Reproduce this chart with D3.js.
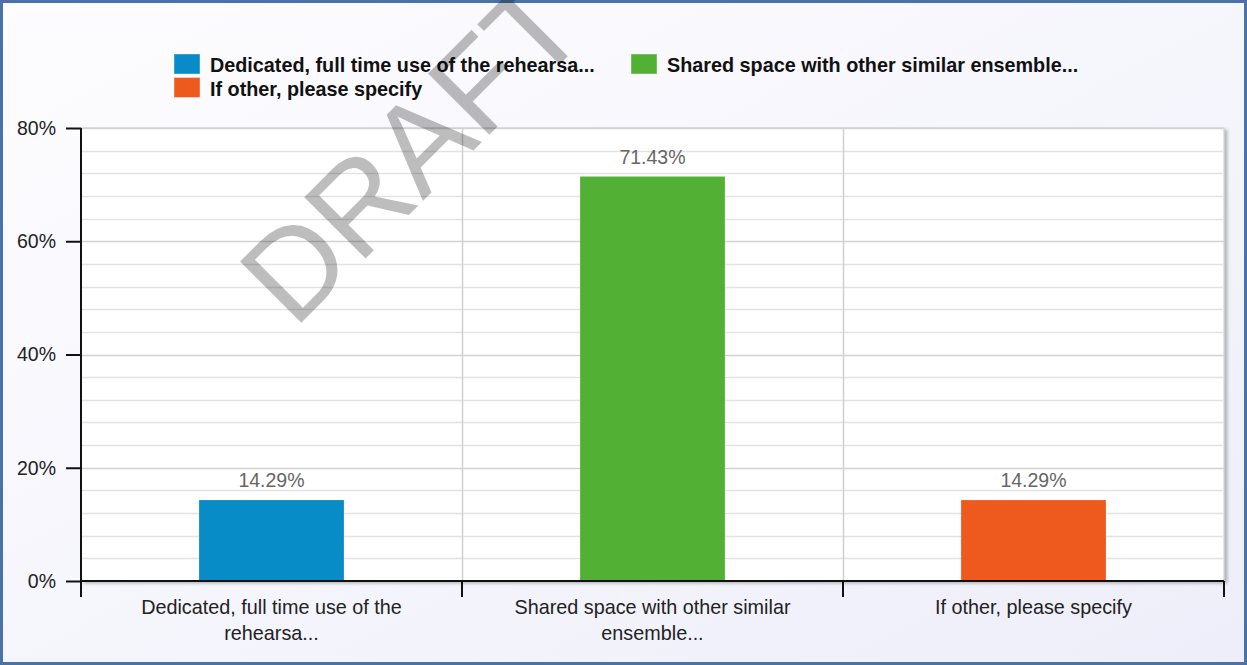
<!DOCTYPE html>
<html>
<head>
<meta charset="utf-8">
<script src="https://cdn.jsdelivr.net/npm/d3@7"></script>
<style>
  body { margin: 0; background: #fff; }
  svg { display: block; font-family: "Liberation Sans", Arial, sans-serif; }
</style>
</head>
<body>
<div id="main"></div>
<script>
var categories = ["Dedicated, full time use of the rehearsa...",
                  "Shared space with other similar ensemble...",
                  "If other, please specify"];
var axisLabels = [["Dedicated, full time use of the", "rehearsa..."],
                  ["Shared space with other similar", "ensemble..."],
                  ["If other, please specify"]];
var values = [14.29, 71.43, 14.29];
var colors = ["#078cc8", "#52b135", "#ee5a1d"];
var yTicks = [0, 20, 40, 60, 80];
var legendOrder = [0, 2, 1];   // column 1: items 0 and 2, column 2: item 1

var W = 1247, H = 665;
var plot = {left: 81, right: 1224, top: 128, bottom: 581};

var svg = d3.select("#main")
        .append("svg")
        .attr("width", W)
        .attr("height", H);

var defs = svg.append("defs");
var grad = defs.append("linearGradient")
        .attr("id", "bg")
        .attr("x1", 0).attr("y1", 0).attr("x2", 1).attr("y2", 1);
grad.append("stop").attr("offset", "0%").attr("stop-color", "#fdfdff");
grad.append("stop").attr("offset", "100%").attr("stop-color", "#eeeefa");

var shadow = defs.append("filter").attr("id", "shadow")
        .attr("x", "-2%").attr("y", "-2%").attr("width", "104%").attr("height", "106%");
shadow.append("feDropShadow")
    .attr("dx", 3).attr("dy", 2).attr("stdDeviation", 1.5)
    .attr("flood-color", "#000").attr("flood-opacity", 0.25);

// background + frame
svg.append("rect")
    .attr("x", 1.5).attr("y", 1.5)
    .attr("width", W - 3).attr("height", H - 3)
    .attr("fill", "url(#bg)")
    .attr("stroke", "#4a72a8")
    .attr("stroke-width", 3);

var x = d3.scaleBand()
        .domain(d3.range(categories.length))
        .range([plot.left, plot.right]);

var y = d3.scaleLinear()
        .domain([0, 80])
        .range([plot.bottom, plot.top]);

// plot area
svg.append("rect")
    .attr("x", plot.left).attr("y", plot.top)
    .attr("width", plot.right - plot.left).attr("height", plot.bottom - plot.top)
    .attr("fill", "#fff")
    .attr("stroke", "#c8c8c8")
    .attr("filter", "url(#shadow)");

// horizontal gridlines every 4%
var minor = d3.range(4, 80, 4).filter(function(v) { return v % 20 !== 0; });
svg.append("g").selectAll("line")
    .data(minor)
    .enter().append("line")
    .attr("x1", plot.left).attr("x2", plot.right)
    .attr("y1", function(d) { return Math.round(y(d)) + 0.5; })
    .attr("y2", function(d) { return Math.round(y(d)) + 0.5; })
    .attr("stroke", "#e3e3e3")
    .attr("stroke-width", 1.5);

svg.append("g").selectAll("line")
    .data(yTicks.filter(function(v) { return v > 0; }))
    .enter().append("line")
    .attr("x1", plot.left).attr("x2", plot.right)
    .attr("y1", function(d) { return Math.round(y(d)) + 0.5; })
    .attr("y2", function(d) { return Math.round(y(d)) + 0.5; })
    .attr("stroke", "#d2d2d2")
    .attr("stroke-width", 1.5);

// vertical separators between categories
svg.append("g").selectAll("line")
    .data(d3.range(1, categories.length))
    .enter().append("line")
    .attr("x1", function(i) { return Math.round(x(i)) + 0.5; })
    .attr("x2", function(i) { return Math.round(x(i)) + 0.5; })
    .attr("y1", plot.top).attr("y2", plot.bottom)
    .attr("stroke", "#cfcfcf")
    .attr("stroke-width", 1.5);

// bars
var barW = x.bandwidth() * 0.38;
svg.append("g").selectAll("rect")
    .data(values)
    .enter().append("rect")
    .attr("x", function(d, i) { return x(i) + (x.bandwidth() - barW) / 2; })
    .attr("y", function(d) { return y(d); })
    .attr("width", barW)
    .attr("height", function(d) { return y(0) - y(d); })
    .attr("fill", function(d, i) { return colors[i]; });

// value labels
svg.append("g").selectAll("text")
    .data(values)
    .enter().append("text")
    .attr("x", function(d, i) { return x(i) + x.bandwidth() / 2; })
    .attr("y", function(d) { return y(d) - 13; })
    .attr("text-anchor", "middle")
    .attr("font-size", 19.5)
    .attr("fill", "#666")
    .text(function(d) { return d.toFixed(2) + "%"; });

// y axis
var yAxis = svg.append("g")
        .attr("transform", "translate(" + plot.left + ",0)")
        .call(d3.axisLeft(y).tickValues(yTicks).tickSize(15).tickPadding(10)
              .tickFormat(function(d) { return d + "%"; }));
yAxis.select(".domain").remove();
yAxis.selectAll(".tick line").attr("stroke", "#111").attr("stroke-width", 2);
yAxis.selectAll(".tick text")
    .attr("font-size", 19.5).attr("fill", "#222")
    .attr("font-family", "Liberation Sans, Arial, sans-serif");

svg.append("line")
    .attr("x1", plot.left).attr("x2", plot.left)
    .attr("y1", plot.top).attr("y2", plot.bottom + 16)
    .attr("stroke", "#111").attr("stroke-width", 2);

// x axis line + ticks at category boundaries
svg.append("line")
    .attr("x1", plot.left).attr("x2", plot.right)
    .attr("y1", plot.bottom).attr("y2", plot.bottom)
    .attr("stroke", "#111").attr("stroke-width", 2);

svg.append("g").selectAll("line")
    .data(d3.range(1, categories.length + 1))
    .enter().append("line")
    .attr("x1", function(i) { return i < categories.length ? x(i) : plot.right; })
    .attr("x2", function(i) { return i < categories.length ? x(i) : plot.right; })
    .attr("y1", plot.bottom).attr("y2", plot.bottom + 16)
    .attr("stroke", "#111").attr("stroke-width", 2);

// category labels
var catLabels = svg.append("g").selectAll("text")
        .data(axisLabels)
        .enter().append("text")
        .attr("x", function(d, i) { return x(i) + x.bandwidth() / 2; })
        .attr("y", plot.bottom + 33)
        .attr("text-anchor", "middle")
        .attr("font-size", 19.8)
        .attr("fill", "#222");
catLabels.selectAll("tspan")
    .data(function(d) { return d; })
    .enter().append("tspan")
    .attr("x", function() { return this.parentNode.getAttribute("x"); })
    .attr("dy", function(d, j) { return j === 0 ? 0 : 26; })
    .text(function(d) { return d; });

// legend
var legendCols = [174, 631];
var legend = svg.append("g").selectAll("g")
        .data(legendOrder)
        .enter().append("g")
        .attr("transform", function(idx, k) {
            var col = k < 2 ? 0 : 1;
            var row = k < 2 ? k : 0;
            return "translate(" + legendCols[col] + "," + (54 + row * 23.5) + ")";
        });
legend.append("rect")
    .attr("width", 26).attr("height", 20)
    .attr("fill", function(idx) { return colors[idx]; })
    .attr("stroke", "#fff").attr("stroke-opacity", 0.4);
legend.append("text")
    .attr("x", 36).attr("y", 18)
    .attr("font-size", 19.8).attr("font-weight", "bold")
    .attr("fill", "#111")
    .text(function(idx) { return categories[idx]; });

// watermark
svg.append("text")
    .attr("transform", "translate(294,330) rotate(-45)")
    .attr("font-size", 126)
    .attr("fill", "#000")
    .attr("fill-opacity", 0.26)
    .text("DRAFT");
</script>
</body>
</html>
